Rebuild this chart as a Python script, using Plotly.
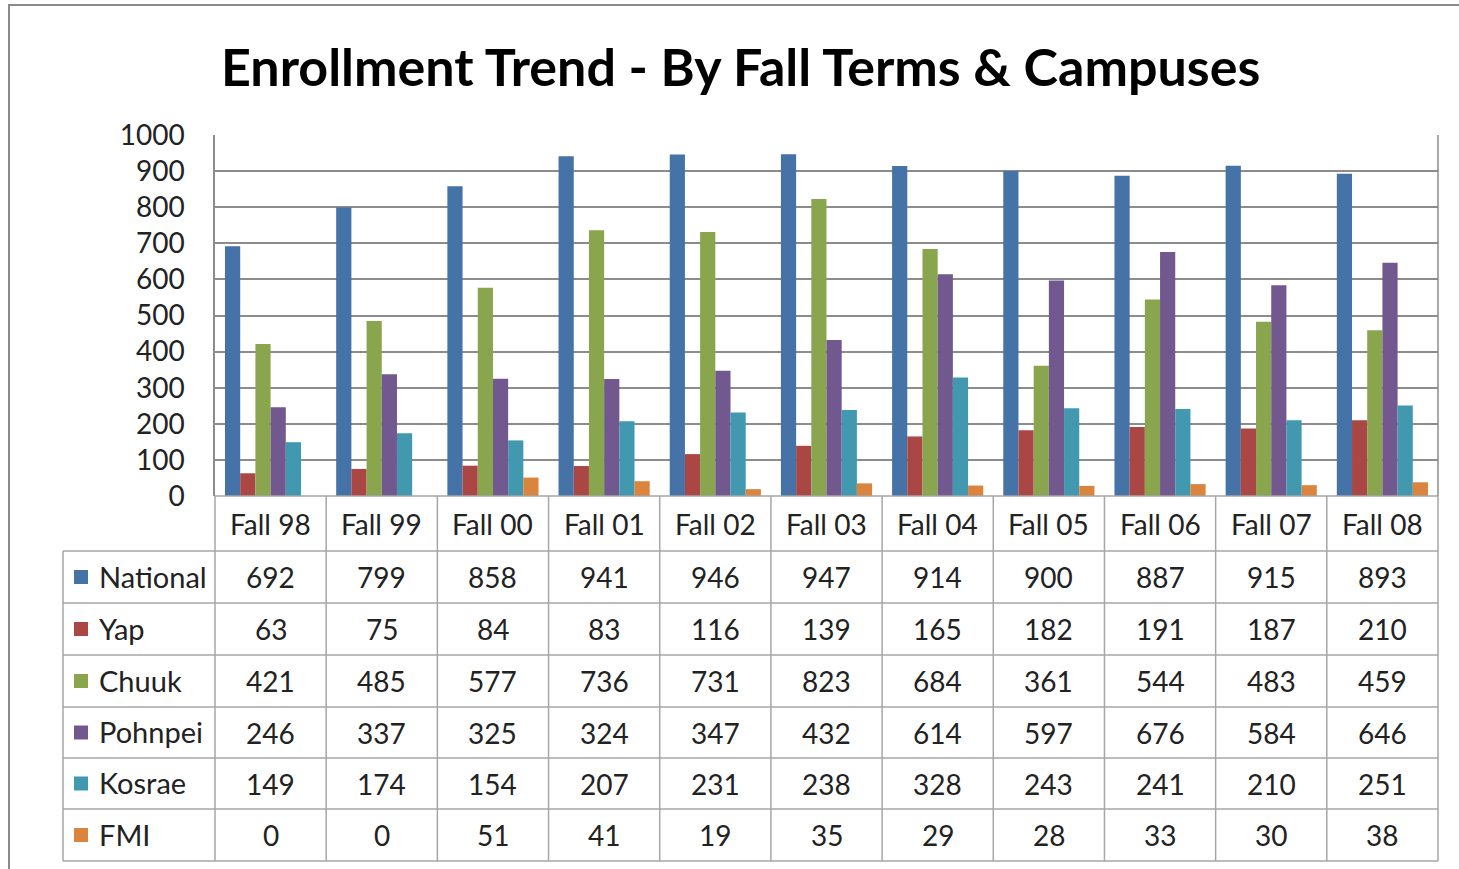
import plotly.graph_objects as go

W, H = 1459, 869

categories = ["Fall 98", "Fall 99", "Fall 00", "Fall 01", "Fall 02", "Fall 03",
              "Fall 04", "Fall 05", "Fall 06", "Fall 07", "Fall 08"]
national = [692, 799, 858, 941, 946, 947, 914, 900, 887, 915, 893]
yap = [63, 75, 84, 83, 116, 139, 165, 182, 191, 187, 210]
chuuk = [421, 485, 577, 736, 731, 823, 684, 361, 544, 483, 459]
pohnpei = [246, 337, 325, 324, 347, 432, 614, 597, 676, 584, 646]
kosrae = [149, 174, 154, 207, 231, 238, 328, 243, 241, 210, 251]
fmi = [0, 0, 51, 41, 19, 35, 29, 28, 33, 30, 38]

series_names = ["National", "Yap", "Chuuk", "Pohnpei", "Kosrae", "FMI"]
series_values = [national, yap, chuuk, pohnpei, kosrae, fmi]
colors = ["#4572A7", "#AA4643", "#89A54E", "#71588F", "#4198AF", "#DB843D"]
y_ticks = [0, 100, 200, 300, 400, 500, 600, 700, 800, 900, 1000]

FONT = "Lato, Calibri, sans-serif"
GRID = "#8C8C8C"
TBL = "#A6A6A6"


def px(x):
    return x / W


def py(y):
    return 1 - y / H


PL, PR, PT, PB = 215, 1438, 135, 496
TL = 63
row_lines = [551, 603, 655, 707, 758, 809, 861]

fig = go.Figure()
for name, vals, c in zip(series_names, series_values, colors):
    fig.add_trace(go.Bar(x=categories, y=vals, name=name, marker_color=c,
                         marker_line_width=0))

shapes = []
annotations = []

# outer frame
shapes.append(dict(type="line", xref="paper", yref="paper", x0=px(8), x1=px(1459),
                   y0=py(5), y1=py(5), line=dict(color="#8A8A8A", width=2)))
shapes.append(dict(type="line", xref="paper", yref="paper", x0=px(9), x1=px(9),
                   y0=py(5), y1=py(869), line=dict(color="#8A8A8A", width=2)))

# table horizontal lines
shapes.append(dict(type="line", xref="paper", yref="paper", x0=px(PL), x1=px(PR),
                   y0=py(PB), y1=py(PB), line=dict(color=TBL, width=1.5)))
for yl in row_lines:
    shapes.append(dict(type="line", xref="paper", yref="paper", x0=px(TL), x1=px(PR),
                       y0=py(yl), y1=py(yl), line=dict(color=TBL, width=1.5)))
# table vertical lines
cw = (PR - PL) / len(categories)
for i in range(len(categories) + 1):
    xl = PL + i * cw
    shapes.append(dict(type="line", xref="paper", yref="paper", x0=px(xl), x1=px(xl),
                       y0=py(PB), y1=py(row_lines[-1]), line=dict(color=TBL, width=1.5)))
shapes.append(dict(type="line", xref="paper", yref="paper", x0=px(TL), x1=px(TL),
                   y0=py(row_lines[0]), y1=py(row_lines[-1]), line=dict(color=TBL, width=1.5)))

TXT = "#222222"
# header row labels
hy = (PB + row_lines[0]) / 2
for i, cat in enumerate(categories):
    annotations.append(dict(x=cat, xref="x", y=py(hy), yref="paper", text=cat,
                            showarrow=False, font=dict(family=FONT, size=28, color=TXT),
                            xanchor="center", yanchor="middle"))

# data rows
for r, (name, vals, c) in enumerate(zip(series_names, series_values, colors)):
    yc = (row_lines[r] + row_lines[r + 1]) / 2
    shapes.append(dict(type="rect", xref="paper", yref="paper", x0=px(74), x1=px(88),
                       y0=py(yc - 7), y1=py(yc + 7), fillcolor=c, line=dict(width=0)))
    annotations.append(dict(x=px(97), xref="paper", y=py(yc - 1), yref="paper", text=name,
                            showarrow=False, font=dict(family=FONT, size=29, color=TXT),
                            xanchor="left", yanchor="middle"))
    for cat, v in zip(categories, vals):
        annotations.append(dict(x=cat, xref="x", y=py(yc), yref="paper", text=str(v),
                                showarrow=False, font=dict(family=FONT, size=28, color=TXT),
                                xanchor="center", yanchor="middle"))

annotations.append(dict(x=px(740), xref="paper", y=py(66), yref="paper",
                        text="<b>Enrollment Trend - By Fall Terms & Campuses</b>",
                        showarrow=False, font=dict(family=FONT, size=52, color="#000000"),
                        xanchor="center", yanchor="middle"))

fig.update_layout(
    width=W, height=H,
    margin=dict(l=0, r=0, t=0, b=0, autoexpand=False),
    paper_bgcolor="white", plot_bgcolor="white",
    barmode="group", bargap=0.18, bargroupgap=0,
    showlegend=False,
    shapes=shapes, annotations=annotations,
    xaxis=dict(domain=[px(PL), px(PR)], showticklabels=False, showgrid=False,
               showline=False, zeroline=False, ticks=""),
    yaxis=dict(domain=[py(PB), py(PT)], range=[0, 1000], tickvals=y_ticks,
               showgrid=True, gridcolor=GRID, gridwidth=1.5, zeroline=False,
               showline=True, linecolor=GRID, linewidth=1.5, mirror=False,
               ticks="", ticklabelstandoff=23,
               tickfont=dict(family=FONT, size=28, color=TXT)),
)
fig.add_shape(type="line", xref="paper", yref="paper", x0=px(PR), x1=px(PR),
              y0=py(PB), y1=py(PT), line=dict(color=GRID, width=1.5))

fig.write_html("out.html", config={"displayModeBar": False},
               post_script="document.body.style.margin='0px';")
